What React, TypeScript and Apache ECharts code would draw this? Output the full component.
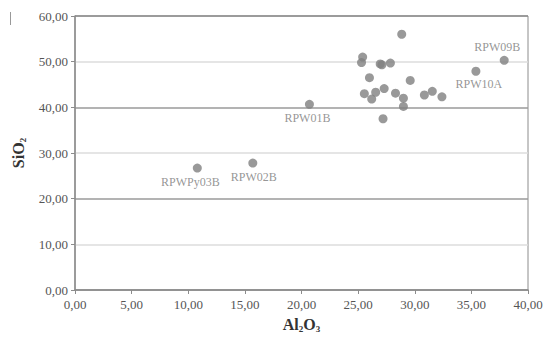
import React, { useEffect, useRef } from "react";
import * as echarts from "echarts";

const al2o3 = [10.8, 15.7, 20.7, 37.9, 35.4, 28.85, 25.4, 25.3, 26.95, 27.1, 27.85, 26.0, 29.6, 25.55, 26.2, 26.55, 27.3, 28.3, 29.0, 29.0, 27.2, 30.85, 31.55, 32.4];
const sio2 = [26.7, 27.8, 40.65, 50.3, 47.9, 56.0, 51.0, 49.8, 49.5, 49.3, 49.7, 46.5, 45.9, 43.0, 41.8, 43.3, 44.1, 43.1, 42.0, 40.2, 37.5, 42.7, 43.5, 42.3];
const sampleNames = ["RPWPy03B", "RPW02B", "RPW01B", "RPW09B", "RPW10A", "", "", "", "", "", "", "", "", "", "", "", "", "", "", "", "", "", "", ""];
const xTicks = [0, 5, 10, 15, 20, 25, 30, 35, 40];
const yTicks = [0, 10, 20, 30, 40, 50, 60];

const labelPlacement: Record<string, { position: string; offset: number[] }> = {
  RPWPy03B: { position: "bottom", offset: [-7, -1] },
  RPW02B: { position: "bottom", offset: [1, -1] },
  RPW01B: { position: "bottom", offset: [-2, -1] },
  RPW09B: { position: "top", offset: [-7, 1] },
  RPW10A: { position: "bottom", offset: [3, -2] },
};

const fmt = (v: number) => v.toFixed(2).replace(".", ",");
const serif = "Liberation Serif";

export default function App() {
  const ref = useRef<HTMLDivElement>(null);
  useEffect(() => {
    if (!ref.current) return;
    const chart = echarts.init(ref.current, undefined, { renderer: "svg" });
    const data = al2o3.map((x, i) => {
      const name = sampleNames[i];
      const item: any = { value: [x, sio2[i]], name };
      if (name) {
        const p = labelPlacement[name];
        item.label = {
          show: true,
          formatter: name,
          position: p.position,
          offset: p.offset,
          distance: 4,
          fontFamily: serif,
          fontSize: 12,
          color: "#7a7a7a",
        };
      }
      return item;
    });
    const richStyle = {
      b: { fontFamily: serif, fontSize: 16, fontWeight: "bold", color: "#333" },
      s: { fontFamily: serif, fontSize: 9, fontWeight: "bold", color: "#333", padding: [9, 0, 0, 0] },
    };
    chart.setOption({
      animation: false,
      backgroundColor: "#ffffff",
      grid: { left: 75, right: 19, top: 16, bottom: 48, show: true, borderColor: "#8c8c8c", borderWidth: 1 },
      xAxis: {
        type: "value",
        min: xTicks[0],
        max: xTicks[xTicks.length - 1],
        interval: 5,
        name: "{b|Al}{s|2}{b|O}{s|3}",
        nameLocation: "middle",
        nameGap: 25,
        nameTextStyle: { rich: richStyle },
        axisLine: { lineStyle: { color: "#8c8c8c", width: 1.5 } },
        axisTick: { show: true, length: 4, inside: false, lineStyle: { color: "#8c8c8c" } },
        axisLabel: { formatter: fmt, fontFamily: serif, fontSize: 13, color: "#555", margin: 8 },
        splitLine: { show: false },
      },
      yAxis: {
        type: "value",
        min: yTicks[0],
        max: yTicks[yTicks.length - 1],
        interval: 10,
        name: "{b|SiO}{s|2}",
        nameLocation: "middle",
        nameGap: 48,
        nameRotate: 90,
        nameTextStyle: { rich: richStyle },
        axisLine: { show: true, lineStyle: { color: "#8c8c8c", width: 1.5 } },
        axisTick: { show: true, length: 4, lineStyle: { color: "#8c8c8c" } },
        axisLabel: { formatter: fmt, fontFamily: serif, fontSize: 13, color: "#555", margin: 7 },
        splitLine: {
          show: true,
          lineStyle: { color: ["#9a9a9a", "#dcdcdc", "#9a9a9a", "#dcdcdc", "#9a9a9a", "#dcdcdc", "#8c8c8c"], width: 1.5 },
        },
      },
      graphic: [
        { type: "line", shape: { x1: 10.5, y1: 12, x2: 10.5, y2: 25 }, style: { stroke: "#999", lineWidth: 1 } },
      ],
      series: [
        {
          type: "scatter",
          symbol: "circle",
          symbolSize: 9,
          itemStyle: { color: "#808080" },
          data,
        },
      ],
    });
    return () => chart.dispose();
  }, []);
  return <div ref={ref} style={{ position: "absolute", left: 0, top: 0, width: 547, height: 338 }} />;
}
